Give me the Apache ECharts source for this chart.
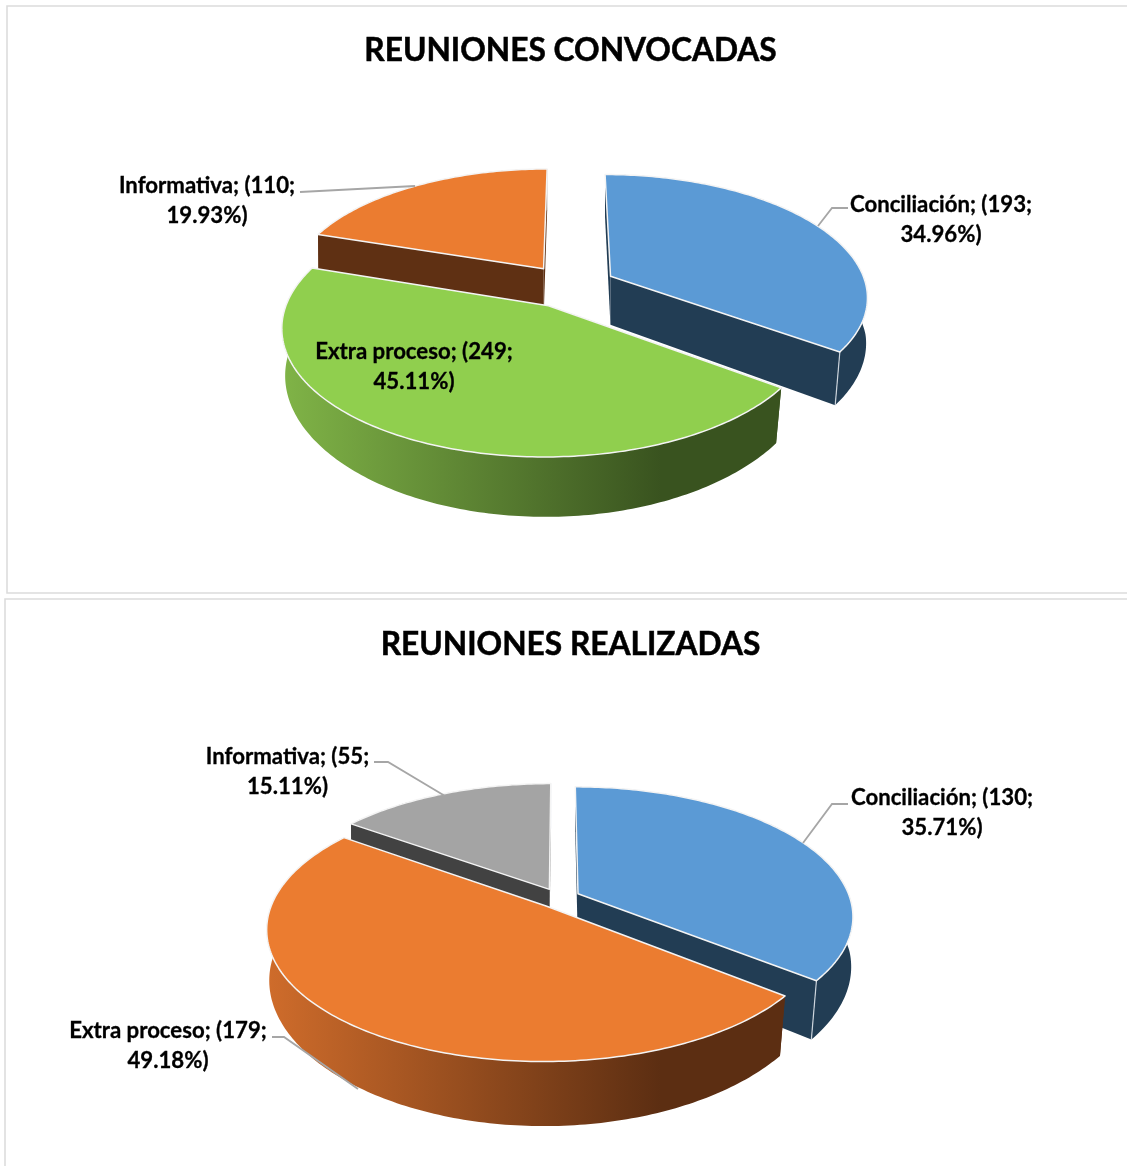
<!DOCTYPE html>
<html>
<head>
<meta charset="utf-8">
<style>html,body{margin:0;padding:0;background:#fff}#main{width:1127px;height:1166px}</style>
<script src="https://cdn.jsdelivr.net/npm/echarts@6/dist/echarts.min.js"></script>
</head>
<body>
<div id="main"></div>
<script>
// ---------- data ----------
const titleTop = 'REUNIONES CONVOCADAS';
const categoriesTop = ['Conciliación', 'Extra proceso', 'Informativa'];
const valuesTop = [193, 249, 110];
const percentsTop = ['34.96', '45.11', '19.93'];

const titleBottom = 'REUNIONES REALIZADAS';
const categoriesBottom = ['Conciliación', 'Extra proceso', 'Informativa'];
const valuesBottom = [130, 179, 55];
const percentsBottom = ['35.71', '49.18', '15.11'];

// ---------- styles and layout ----------
const FONT = 'Lato, "Noto Sans", sans-serif';
const BLUE = { top: '#5B9AD5', cut: '#223D54', side: ['#223D54', '#223D54'] };
const GREEN = { top: '#90CF4E', cut: '#3A5420', side: ['#80B447', '#39531F'] };
const ORANGE = { top: '#EB7C30', cut: '#5F3013', side: ['#CF6C2B', '#5C2E12'] };
const ORANGE_SMALL = { top: '#EB7C30', cut: '#5F3013', side: ['#5F3013', '#5F3013'] };
const GRAY = { top: '#A4A4A4', cut: '#424242', side: ['#424242', '#424242'] };

const charts = [
  {
    values: valuesTop, categories: categoriesTop, percents: percentsTop,
    palette: [BLUE, GREEN, ORANGE_SMALL], order: [2, 0, 1],
    cx: 570, cy: 286, rx: 256, ry: 120.5, k: 0.157, explode: 0.18, depth: 49,
    labels: [[941, 220], [414, 367], [207, 201]],
    leaders: [
      [[848, 208], [832, 208], [818, 226]],
      [[300, 192], [415, 186]]
    ]
  },
  {
    values: valuesBottom, categories: categoriesBottom, percents: percentsBottom,
    palette: [BLUE, ORANGE, GRAY], order: [2, 0, 1],
    cx: 559, cy: 898, rx: 272, ry: 126.3, k: 0.169, explode: 0.078, depth: 53,
    labels: [[942, 813], [168, 1046], [287.5, 772]],
    leaders: [
      [[848, 804], [832, 804], [803, 843]],
      [[272, 1037], [284, 1037], [358, 1089]],
      [[374, 762], [388, 762], [445, 796]]
    ]
  }
];

// ---------- geometry ----------
function project(c, X, Z, lower) {
  const s = 1 / (1 + c.k * Z);
  let x = c.rx * X * s;
  let y = -c.ry * Z * s;
  if (lower) {
    x *= 0.998 + 0.03 * Math.min(Z, 0);
    y += c.depth * s;
  }
  return [c.cx + x, c.cy + y];
}

function sliceGeometry(c, index) {
  const total = c.values.reduce((a, b) => a + b, 0);
  let before = 0;
  for (let i = 0; i < index; i++) before += c.values[i];
  const a0 = before / total * Math.PI * 2;
  const a1 = (before + c.values[index]) / total * Math.PI * 2;
  const mid = (a0 + a1) / 2;
  const ox = c.explode * Math.sin(mid);
  const oz = c.explode * Math.cos(mid);
  const steps = Math.max(12, Math.round((a1 - a0) * 60));
  const upper = [], lower = [];
  for (let i = 0; i <= steps; i++) {
    const a = a0 + (a1 - a0) * i / steps;
    upper.push(project(c, ox + Math.sin(a), oz + Math.cos(a), false));
    lower.push(project(c, ox + Math.sin(a), oz + Math.cos(a), true));
  }
  return {
    upper, lower,
    apex: project(c, ox, oz, false),
    apexLow: project(c, ox, oz, true)
  };
}

function renderSlice(c) {
  return function (params, api) {
    const index = api.value(0);
    const g = sliceGeometry(c, index);
    const col = c.palette[index];
    const n = g.upper.length - 1;
    const xs = g.upper.concat(g.lower).map(p => p[0]);
    const sideFill = {
      type: 'linear', global: true,
      x: Math.min.apply(null, xs), y: 0, x2: Math.max.apply(null, xs), y2: 0,
      colorStops: [
        { offset: 0, color: col.side[0] },
        { offset: 0.76, color: col.side[1] },
        { offset: 1, color: col.side[1] }
      ]
    };
    const children = [
      { type: 'polygon', shape: { points: [g.apex, g.upper[0], g.lower[0], g.apexLow] }, style: { fill: col.cut } },
      { type: 'polygon', shape: { points: [g.apex, g.upper[n], g.lower[n], g.apexLow] }, style: { fill: col.cut } },
      { type: 'polygon', shape: { points: g.upper.concat(g.lower.slice().reverse()) }, style: { fill: sideFill } },
      { type: 'polyline', shape: { points: [g.upper[n], g.lower[n]] }, style: { fill: 'none', stroke: 'rgba(235,240,245,0.8)', lineWidth: 1.2 } },
      { type: 'polygon', shape: { points: [g.apex].concat(g.upper) }, style: { fill: col.top, stroke: '#F4F4F4', lineWidth: 1.5, lineJoin: 'round' } }
    ];
    return { type: 'group', children };
  };
}

const series = charts.map(c => ({
  type: 'custom',
  coordinateSystem: 'none',
  renderItem: renderSlice(c),
  data: c.order.map(i => [i, c.values[i]]),
  animation: false,
  silent: true,
  z: 2
}));

// ---------- decoration ----------
const graphics = [
  { type: 'polyline', z: 0, shape: { points: [[1140, 6], [7, 6], [7, 593], [1140, 593]] }, style: { fill: 'none', stroke: '#DCDCDC', lineWidth: 1.6 } },
  { type: 'polyline', z: 0, shape: { points: [[1140, 599], [5, 599], [5, 1180]] }, style: { fill: 'none', stroke: '#DCDCDC', lineWidth: 1.6 } }
];
charts.forEach(c => {
  c.leaders.forEach(points => graphics.push({
    type: 'polyline', z: 5, shape: { points },
    style: { fill: 'none', stroke: '#A6A6A6', lineWidth: 1.8 }
  }));
  c.categories.forEach((name, i) => graphics.push({
    type: 'text', z: 10,
    x: c.labels[i][0], y: c.labels[i][1],
    style: {
      text: name + '; (' + c.values[i] + ';\n' + c.percents[i] + '%)',
      align: 'center', verticalAlign: 'middle',
      fontFamily: FONT, fontWeight: 'bold', fontSize: 22.2, lineHeight: 30, fill: '#000',
      stroke: '#000', lineWidth: 0.3
    }
  }));
});

const titleStyle = {
  fontFamily: FONT, fontWeight: 'bold', fontSize: 31.7, color: '#000',
  textBorderColor: '#000', textBorderWidth: 0.5
};
const chart = echarts.init(document.getElementById('main'), null, { renderer: 'canvas' });
chart.setOption({
  backgroundColor: '#fff',
  animation: false,
  title: [
    { text: titleTop, left: 570.5, top: 35, textAlign: 'center', padding: 0, textStyle: titleStyle },
    { text: titleBottom, left: 570.5, top: 629, textAlign: 'center', padding: 0, textStyle: titleStyle }
  ],
  graphic: { elements: graphics },
  series
});
</script>
</body>
</html>
